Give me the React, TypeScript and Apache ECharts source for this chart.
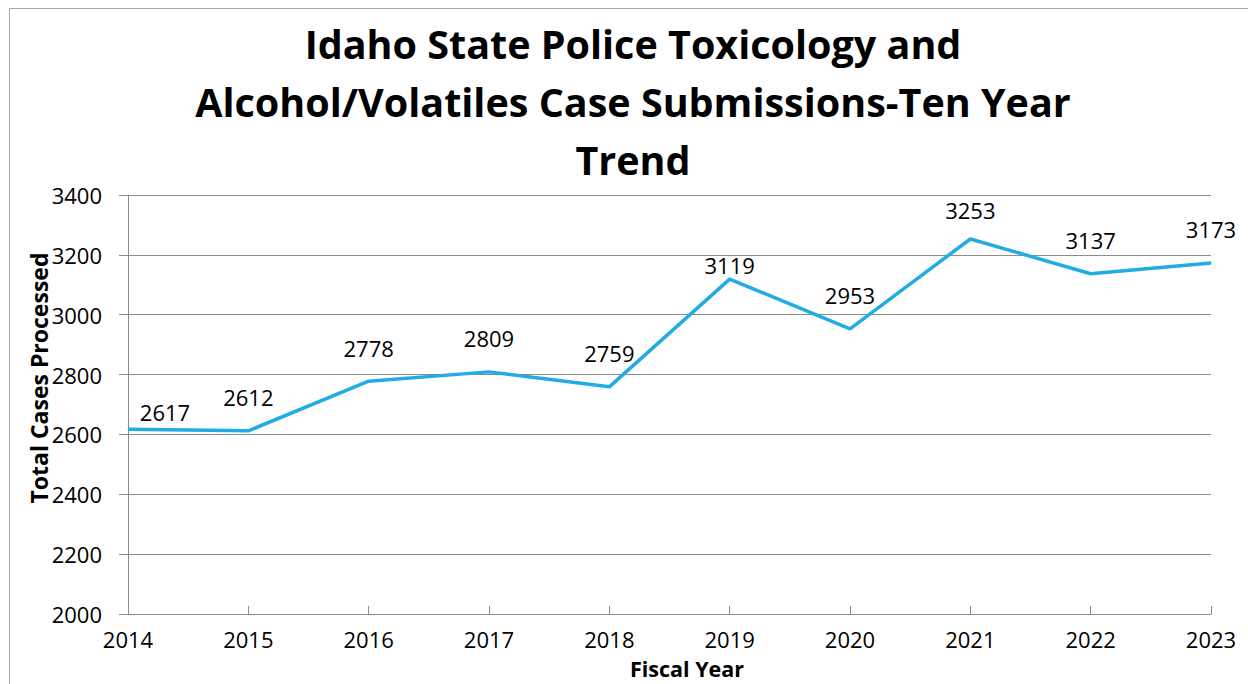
import React, { useEffect, useRef } from "react";
import * as echarts from "echarts";

const years = ["2014", "2015", "2016", "2017", "2018", "2019", "2020", "2021", "2022", "2023"];
const cases = [2617, 2612, 2778, 2809, 2759, 3119, 2953, 3253, 3137, 3173];
const titleLines = [
  "Idaho State Police Toxicology and",
  "Alcohol/Volatiles Case Submissions-Ten Year",
  "Trend",
];
const yAxisTitle = "Total Cases Processed";
const xAxisTitle = "Fiscal Year";

const FONT = "'Open Sans', 'Noto Sans', sans-serif";
const GRAY = "#8c8c8c";

// per-point label nudges (as placed in the original)
const labelOffsets: Record<number, [number, number]> = {
  0: [37, 16],
  5: [0, 19],
  7: [0, 5],
};

export default function App() {
  const ref = useRef<HTMLDivElement>(null);
  useEffect(() => {
    if (!ref.current) return;
    const chart = echarts.init(ref.current, undefined, { renderer: "svg" });
    chart.setOption({
      animation: false,
      backgroundColor: "#ffffff",
      title: {
        text: titleLines.join("\n"),
        left: 628,
        top: 10,
        textAlign: "center",
        textStyle: {
          fontFamily: FONT,
          fontWeight: "bold",
          fontSize: 39.5,
          lineHeight: 58,
          color: "#000",
        },
      },
      graphic: [
        {
          type: "rect",
          shape: { x: 9.5, y: 8.5, width: 1300, height: 700 },
          style: { fill: "none", stroke: "#a6a6a6", lineWidth: 1 },
          silent: true,
        },
        {
          type: "text",
          x: 39,
          y: 378,
          rotation: Math.PI / 2,
          style: {
            text: yAxisTitle,
            fontFamily: FONT,
            fontWeight: "bold",
            fontSize: 23,
            fill: "#000",
            align: "center",
            verticalAlign: "middle",
          },
        },
        {
          type: "text",
          x: 687,
          y: 668,
          style: {
            text: xAxisTitle,
            fontFamily: FONT,
            fontWeight: "bold",
            fontSize: 21.5,
            fill: "#000",
            align: "center",
            verticalAlign: "middle",
          },
        },
      ],
      grid: { left: 128, right: 37, top: 195, bottom: 70, containLabel: false },
      xAxis: {
        type: "category",
        data: years,
        boundaryGap: false,
        axisLine: { show: true, lineStyle: { color: GRAY, width: 1 } },
        axisTick: { show: true, inside: true, length: 8, lineStyle: { color: GRAY } },
        axisLabel: { margin: 14, fontFamily: FONT, fontSize: 22, color: "#000" },
        splitLine: { show: false },
      },
      yAxis: {
        type: "value",
        min: 2000,
        max: 3400,
        interval: 200,
        axisLine: { show: true, lineStyle: { color: GRAY, width: 1 } },
        axisTick: { show: true, inside: false, length: 9, lineStyle: { color: GRAY } },
        axisLabel: {
          margin: 26,
          fontFamily: FONT,
          fontSize: 22,
          color: "#000",
          formatter: (v: number) => String(v),
        },
        splitLine: { show: true, lineStyle: { color: GRAY, width: 1 } },
      },
      series: [
        {
          type: "line",
          data: cases.map((v, i) =>
            labelOffsets[i] ? { value: v, label: { offset: labelOffsets[i] } } : v
          ),
          showSymbol: true,
          symbol: "circle",
          symbolSize: 1,
          lineStyle: { color: "#22ace4", width: 3.5 },
          itemStyle: { color: "#22ace4" },
          label: {
            show: true,
            position: "top",
            distance: 22,
            fontFamily: FONT,
            fontSize: 22,
            color: "#000",
          },
        },
      ],
    });
    return () => chart.dispose();
  }, []);
  return (
    <div
      ref={ref}
      style={{ position: "fixed", left: 0, top: 0, width: 1248, height: 684 }}
    />
  );
}
